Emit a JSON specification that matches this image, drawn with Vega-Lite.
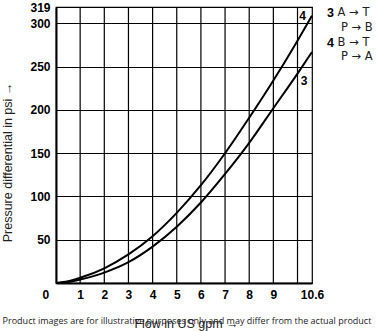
{
  "$schema": "https://vega.github.io/schema/vega-lite/v6.json",
  "autosize": "none",
  "width": 256,
  "height": 276,
  "padding": {"left": 56, "top": 7, "right": 65, "bottom": 48},
  "background": "white",
  "config": {
    "view": {"stroke": "black", "strokeWidth": 1.2},
    "font": "Liberation Sans",
    "axis": {"labelOverlap": false, "labelFlush": false}
  },
  "title": {
    "text": "Product images are for illustrative purposes only and may differ from the actual product",
    "orient": "bottom",
    "anchor": "middle",
    "font": "Open Sans",
    "fontSize": 9,
    "fontWeight": "normal",
    "color": "#222",
    "offset": -13,
    "dx": 3
  },
  "datasets": {
    "curves": [
      {"flow": 0, "dp": 0, "curve": "4"},
      {"flow": 0.5, "dp": 2, "curve": "4"},
      {"flow": 1, "dp": 6, "curve": "4"},
      {"flow": 2, "dp": 17, "curve": "4"},
      {"flow": 3, "dp": 33, "curve": "4"},
      {"flow": 4, "dp": 54, "curve": "4"},
      {"flow": 5, "dp": 81, "curve": "4"},
      {"flow": 6, "dp": 113, "curve": "4"},
      {"flow": 7, "dp": 150, "curve": "4"},
      {"flow": 8, "dp": 191, "curve": "4"},
      {"flow": 9, "dp": 234, "curve": "4"},
      {"flow": 10, "dp": 280, "curve": "4"},
      {"flow": 10.6, "dp": 309, "curve": "4"},
      {"flow": 0, "dp": 0, "curve": "3"},
      {"flow": 0.5, "dp": 1, "curve": "3"},
      {"flow": 1, "dp": 4, "curve": "3"},
      {"flow": 2, "dp": 12, "curve": "3"},
      {"flow": 3, "dp": 24, "curve": "3"},
      {"flow": 4, "dp": 42, "curve": "3"},
      {"flow": 5, "dp": 65, "curve": "3"},
      {"flow": 6, "dp": 93, "curve": "3"},
      {"flow": 7, "dp": 126, "curve": "3"},
      {"flow": 8, "dp": 162, "curve": "3"},
      {"flow": 9, "dp": 202, "curve": "3"},
      {"flow": 10, "dp": 242, "curve": "3"},
      {"flow": 10.6, "dp": 267, "curve": "3"}
    ],
    "gridX": [
      {"flow": 1}, {"flow": 2}, {"flow": 3}, {"flow": 4}, {"flow": 5},
      {"flow": 6}, {"flow": 7}, {"flow": 8}, {"flow": 9}, {"flow": 10}
    ],
    "curveLabels": [
      {"flow": 10.21, "dp": 309, "label": "4"},
      {"flow": 10.27, "dp": 234, "label": "3"},
      {"flow": -0.42, "dp": -14, "label": "0"}
    ],
    "legendNums": [
      {"flow": 11.22, "dp": 311.5, "label": "3"},
      {"flow": 11.22, "dp": 277, "label": "4"}
    ],
    "legendText": [
      {"flow": 11.66, "dp": 311.5, "label": "A → T"},
      {"flow": 11.8, "dp": 295.3, "label": "P → B"},
      {"flow": 11.66, "dp": 277, "label": "B → T"},
      {"flow": 11.8, "dp": 260.7, "label": "P → A"}
    ]
  },
  "encoding": {
    "x": {
      "field": "flow", "type": "quantitative",
      "scale": {"domain": [0, 10.6], "nice": false, "zero": true},
      "axis": {
        "values": [1, 2, 3, 4, 5, 6, 7, 8, 9, 10.6],
        "labelExpr": "datum.value == 10.6 ? '10.6' : '' + datum.value",
        "labelFont": "Liberation Sans",
        "labelFontSize": 12,
        "labelFontWeight": "bold",
        "labelColor": "black",
        "labelPadding": 6,
        "labelFlush": false,
        "labelOverlap": false,
        "ticks": false,
        "domainColor": "black",
        "domainWidth": 2,
        "grid": false,
        "title": "Flow in US gpm →",
        "titleFont": "Liberation Sans",
        "titleFontSize": 12.5,
        "titleFontWeight": "normal",
        "titleColor": "#222",
        "titleX": 130,
        "titleY": 40,
        "titleBaseline": "middle"
      }
    }
  },
  "layer": [
    {
      "data": {"name": "gridX"},
      "mark": {"type": "rule", "color": "black", "strokeWidth": 1.2},
      "encoding": {}
    },
    {
      "data": {"name": "curves"},
      "mark": {"type": "line", "color": "black", "strokeWidth": 2, "interpolate": "monotone", "clip": false},
      "encoding": {
        "y": {
          "field": "dp", "type": "quantitative",
          "scale": {"domain": [0, 319], "nice": false},
          "axis": {
            "values": [50, 100, 150, 200, 250, 300, 319],
            "labelFont": "Liberation Sans",
            "labelFontSize": 12,
            "labelFontWeight": "bold",
            "labelColor": "black",
            "labelPadding": 6,
            "labelFlush": false,
            "labelOverlap": false,
            "ticks": false,
            "domainColor": "black",
            "domainWidth": 2,
            "grid": true,
            "gridColor": "black",
            "gridWidth": 1.2,
            "gridOpacity": 1,
            "title": "Pressure differential in psi →",
            "titleFont": "Liberation Sans",
            "titleFontSize": 12.5,
            "titleFontWeight": "normal",
            "titleColor": "#222",
            "titleX": -49,
            "titleY": 155,
            "titleAngle": -90,
            "titleAlign": "center",
            "titleBaseline": "middle"
          }
        },
        "detail": {"field": "curve"}
      }
    },
    {
      "data": {"name": "curveLabels"},
      "mark": {"type": "text", "fontWeight": "bold", "fontSize": 12, "color": "black", "font": "Liberation Sans", "clip": false},
      "encoding": {
        "y": {"field": "dp", "type": "quantitative"},
        "text": {"field": "label"}
      }
    },
    {
      "data": {"name": "legendNums"},
      "mark": {"type": "text", "fontWeight": "bold", "fontSize": 12.5, "color": "black", "align": "left", "baseline": "middle", "font": "Liberation Sans", "clip": false},
      "encoding": {
        "y": {"field": "dp", "type": "quantitative"},
        "text": {"field": "label"}
      }
    },
    {
      "data": {"name": "legendText"},
      "mark": {"type": "text", "fontWeight": "normal", "fontSize": 11.5, "color": "#222", "align": "left", "baseline": "middle", "font": "DejaVu Sans", "clip": false},
      "encoding": {
        "y": {"field": "dp", "type": "quantitative"},
        "text": {"field": "label"}
      }
    }
  ]
}
